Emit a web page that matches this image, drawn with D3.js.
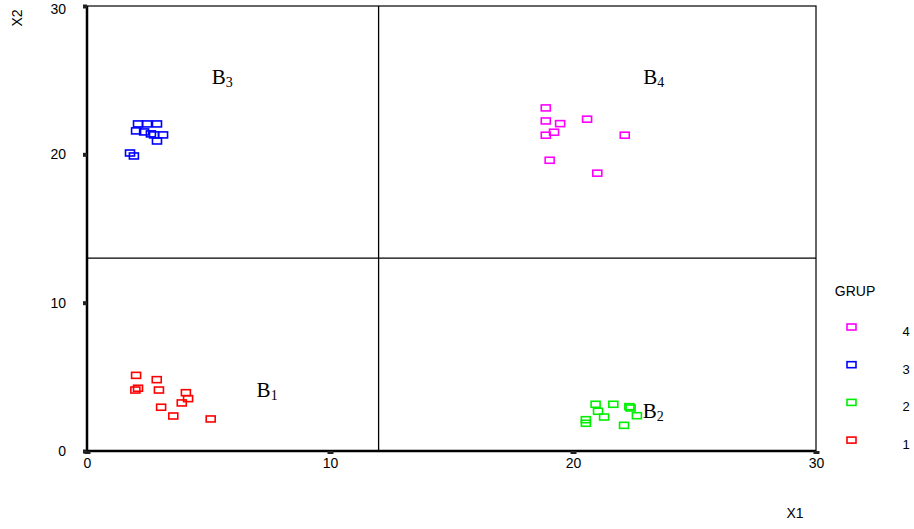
<!DOCTYPE html>
<html>
<head>
<meta charset="utf-8">
<script src="https://cdn.jsdelivr.net/npm/d3@7"></script>
<style>
body { margin: 0; background: #fff; }
text { font-family: "Liberation Sans", Arial, sans-serif; }
</style>
</head>
<body>
<div id="chart"></div>
<script>
// group points (X1, X2)
var grup1 = [[2.02,5.10],[2.87,4.81],[1.99,4.11],[2.10,4.23],[2.96,4.11],[4.07,3.93],[4.16,3.53],[3.90,3.24],[3.05,2.95],[3.55,2.36],[5.09,2.16]];
var grup2 = [[20.93,3.15],[21.66,3.15],[22.32,2.99],[22.37,2.90],[21.03,2.68],[21.28,2.29],[22.63,2.38],[20.53,2.11],[20.53,1.87],[22.10,1.73]];
var grup3 = [[2.10,22.05],[2.47,22.05],[2.88,22.05],[2.02,21.58],[2.35,21.51],[2.63,21.38],[2.76,21.31],[3.13,21.31],[2.88,20.90],[1.77,20.09],[1.93,19.89]];
var grup4 = [[18.88,23.13],[18.88,22.25],[19.47,22.07],[20.58,22.37],[19.22,21.49],[18.88,21.29],[22.13,21.29],[19.04,19.60],[21.00,18.73]];
var groupNames = ["1", "2", "3", "4"];
var groupColors = ["#ff0000", "#00ee00", "#0000ff", "#ff00ff"];
var xTicks = [0, 10, 20, 30];
var yTicks = [0, 10, 20, 30];
var cutX = 12;   // vertical divider
var cutY = 13;   // horizontal divider
var regionLabels = [["B", "3", 5.13, 24.75], ["B", "4", 22.89, 24.75], ["B", "1", 6.98, 3.64], ["B", "2", 22.87, 2.25]];

var margin = {top: 6, right: 98, bottom: 78, left: 87};
var width = 914 - margin.left - margin.right;
var height = 529 - margin.top - margin.bottom;

var svg = d3.select("#chart").append("svg")
    .attr("width", 914)
    .attr("height", 529);
var g = svg.append("g").attr("transform", "translate(" + margin.left + "," + margin.top + ")");

var x = d3.scaleLinear().domain([0, 30]).range([0, width]);
var y = d3.scaleLinear().domain([0, 30]).range([height, 0]);

// frame
g.append("rect")
    .attr("x", 0).attr("y", 0)
    .attr("width", width).attr("height", height)
    .attr("fill", "none").attr("stroke", "#000").attr("stroke-width", 1.2);
g.append("line")
    .attr("x1", 0).attr("x2", 0).attr("y1", 0).attr("y2", height)
    .attr("stroke", "#000").attr("stroke-width", 2.5);
g.append("line")
    .attr("x1", 0).attr("x2", width).attr("y1", height).attr("y2", height)
    .attr("stroke", "#000").attr("stroke-width", 2.5);

// dividers
g.append("line")
    .attr("x1", x(cutX)).attr("x2", x(cutX)).attr("y1", 0).attr("y2", height)
    .attr("stroke", "#000").attr("stroke-width", 1.3);
g.append("line")
    .attr("x1", 0).attr("x2", width).attr("y1", y(cutY)).attr("y2", y(cutY))
    .attr("stroke", "#000").attr("stroke-width", 1.3);

// axes
var xAxis = g.append("g")
    .attr("transform", "translate(0," + height + ")")
    .call(d3.axisBottom(x).tickValues(xTicks).tickSize(0).tickPadding(7));
xAxis.select(".domain").remove();
xAxis.selectAll("text").attr("font-size", 14).attr("fill", "#000").style("font-family", "Liberation Sans, Arial, sans-serif");
xAxis.selectAll(".tick").append("rect")
    .attr("x", -3).attr("y", 0).attr("width", 6).attr("height", 3).attr("fill", "#222");

var yAxis = g.append("g")
    .call(d3.axisLeft(y).tickValues(yTicks).tickSize(0).tickPadding(21));
yAxis.select(".domain").remove();
yAxis.selectAll("text").attr("font-size", 14).attr("fill", "#000").style("font-family", "Liberation Sans, Arial, sans-serif");
yAxis.selectAll(".tick").filter(function(d) { return d === 30; }).select("text").attr("dy", "0.5em");
yAxis.selectAll(".tick").append("rect")
    .attr("x", -4).attr("y", -2).attr("width", 4).attr("height", 4).attr("fill", "#222");

svg.append("text")
    .attr("transform", "translate(22,18) rotate(-90)")
    .attr("text-anchor", "middle")
    .attr("font-size", 14)
    .text("X2");
svg.append("text")
    .attr("x", 795).attr("y", 518)
    .attr("text-anchor", "middle")
    .attr("font-size", 14)
    .text("X1");

// points
var groups = [grup1, grup2, grup3, grup4];
groups.forEach(function(pts, i) {
    g.append("g").selectAll("rect")
        .data(pts)
        .enter().append("rect")
        .attr("x", function(d) { return x(d[0]) - 4.5; })
        .attr("y", function(d) { return y(d[1]) - 3; })
        .attr("width", 9)
        .attr("height", 6)
        .attr("fill", "none")
        .attr("stroke", groupColors[i])
        .attr("stroke-width", 1.6);
});

// region labels
var lab = g.selectAll(".region").data(regionLabels).enter().append("text")
    .attr("class", "region")
    .attr("x", function(d) { return x(d[2]); })
    .attr("y", function(d) { return y(d[3]); })
    .attr("font-size", 21)
    .style("font-family", "Liberation Serif, Times New Roman, serif");
lab.append("tspan").text(function(d) { return d[0]; });
lab.append("tspan").attr("font-size", 14).attr("dy", 3).text(function(d) { return d[1]; });

// legend
svg.append("text")
    .attr("x", 855).attr("y", 296)
    .attr("text-anchor", "middle")
    .attr("font-size", 14)
    .text("GRUP");
var legend = svg.append("g").selectAll("g")
    .data(groupNames.slice().reverse())
    .enter().append("g")
    .attr("transform", function(d, i) { return "translate(0," + (327 + i * 37.7) + ")"; });
legend.append("rect")
    .attr("x", 847).attr("y", -3)
    .attr("width", 9).attr("height", 6)
    .attr("fill", "none")
    .attr("stroke", function(d) { return groupColors[+d - 1]; })
    .attr("stroke-width", 1.6);
legend.append("text")
    .attr("x", 906).attr("y", 9)
    .attr("text-anchor", "middle")
    .attr("font-size", 13)
    .text(function(d) { return d; });
</script>
</body>
</html>
